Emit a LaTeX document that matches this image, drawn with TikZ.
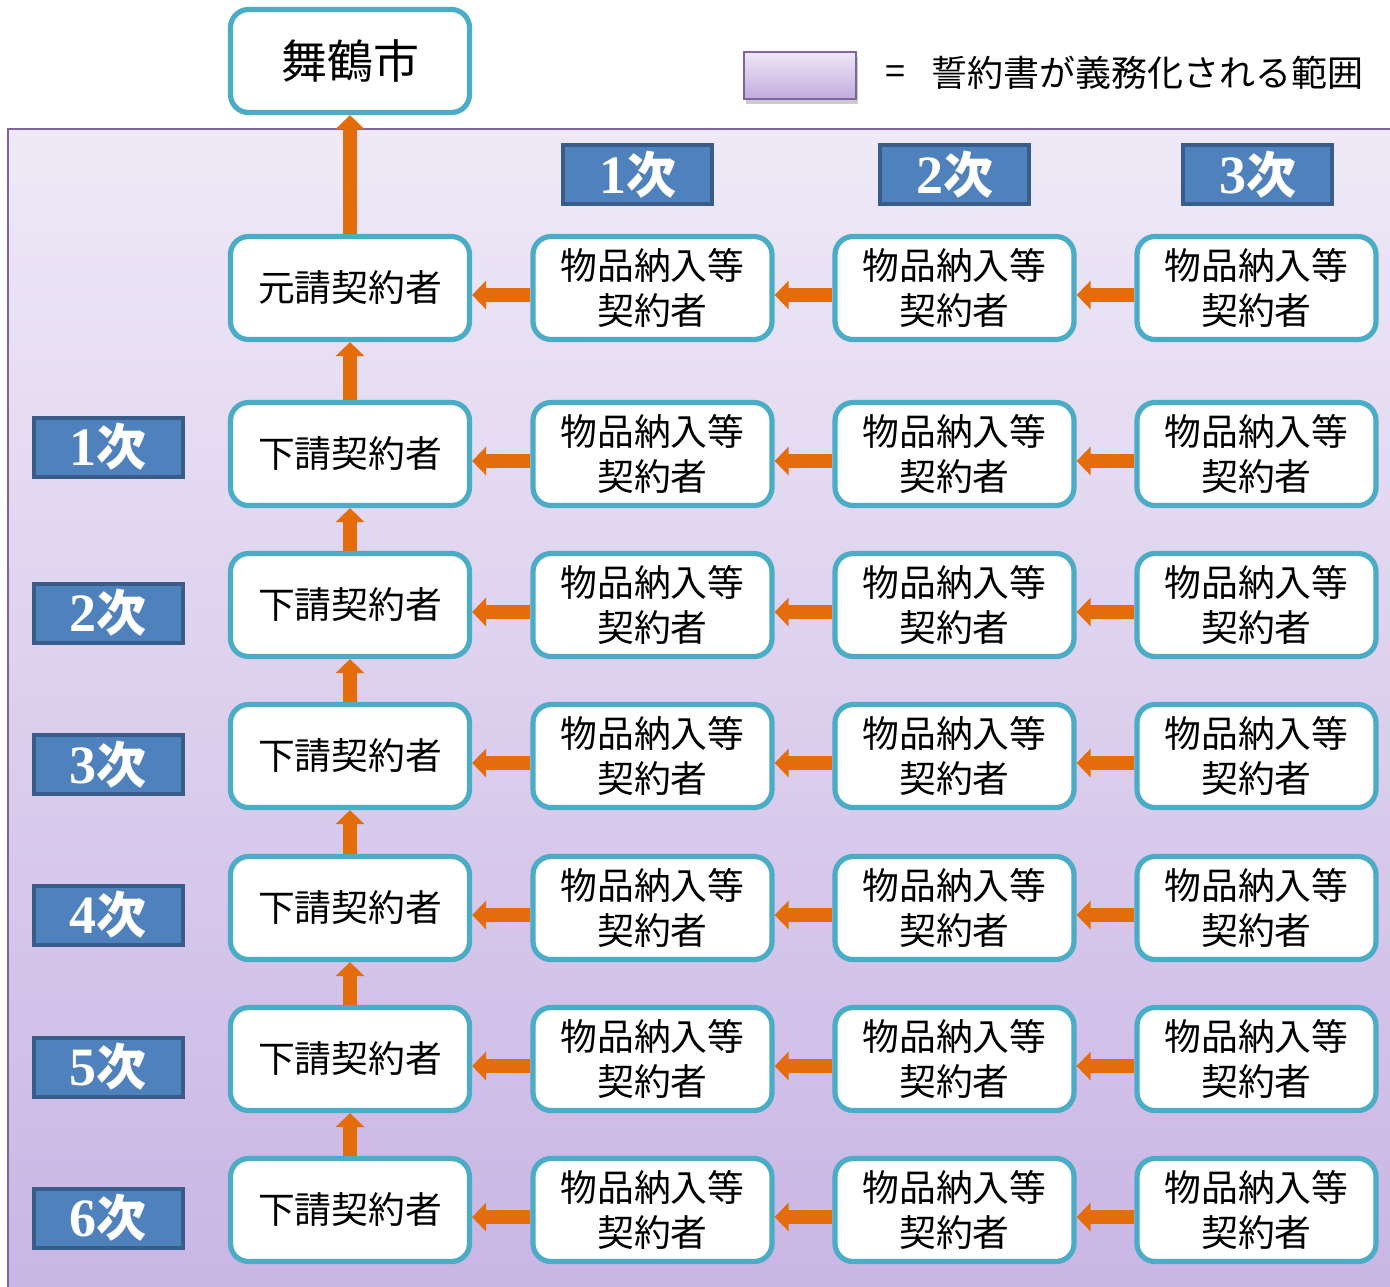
\documentclass[tikz,border=0pt]{standalone}
\usepackage{fontspec}
\setmainfont{Noto Sans CJK JP}
\newfontfamily\numfont{Liberation Serif}
\usetikzlibrary{arrows.meta,shadows}
\definecolor{boxteal}{HTML}{4BACC6}
\definecolor{arrowor}{HTML}{E46C0A}
\definecolor{hdrblue}{HTML}{4F81BD}
\definecolor{hdrdark}{HTML}{385D8A}
\definecolor{regtop}{HTML}{EFE9F7}
\definecolor{regbot}{HTML}{C8B4E4}
\definecolor{regline}{HTML}{8064A2}
\definecolor{legtop}{HTML}{EEE8F6}
\definecolor{legbot}{HTML}{C2ACDE}
\tikzset{
  box/.style={draw=boxteal, line width=2.6pt, fill=white, rounded corners=9pt,
    minimum width=119.5pt, minimum height=51.5pt, inner sep=0pt, align=center,
    font=\fontsize{18.4pt}{22.5pt}\selectfont},
  hdr/.style={draw=hdrdark, line width=2pt, fill=hdrblue, minimum width=74.5pt,
    minimum height=29.5pt, inner sep=0pt, text=white,
    font=\fontsize{25pt}{25pt}\selectfont\bfseries},
  arr/.style={draw=arrowor, line width=7pt, -{Triangle[length=7pt,width=14pt]}},
}
\newcommand{\hd}[1]{{\numfont\fontsize{27pt}{27pt}\selectfont #1}次}
\begin{document}
\begin{tikzpicture}[x=0.5pt,y=-0.5pt]
\useasboundingbox (0,0) rectangle (1390,1286);
% region
\draw[regline, line width=1pt, top color=regtop, bottom color=regbot] (8,129) rectangle (1420,1320);
% legend
\node[draw=regline, line width=1pt, top color=legtop, bottom color=legbot,
  minimum width=56pt, minimum height=23.5pt, inner sep=0pt,
  drop shadow={opacity=0.4, shadow xshift=1pt, shadow yshift=-2.5pt}] (leg) at (799.5,75) {};
\node[font=\fontsize{18pt}{20pt}\selectfont] (eq) at (895,75) {=};
\node[anchor=west, inner sep=0pt, font=\fontsize{18pt}{20pt}\selectfont] (legtxt) at (931,73) {誓約書が義務化される範囲};
% city
\node[box, font=\fontsize{23pt}{25pt}\selectfont] (city) at (350,61) {舞鶴市};
% headers
\node[hdr] (h1) at (637.5,174.5) {\hd{1}};
\node[hdr] (h2) at (954.5,174.5) {\hd{2}};
\node[hdr] (h3) at (1257.5,174.5) {\hd{3}};
% left labels
\node[hdr] (l1) at (108,447) {\hd{1}};
\node[hdr] (l2) at (108,613) {\hd{2}};
\node[hdr] (l3) at (108,764.5) {\hd{3}};
\node[hdr] (l4) at (108,915) {\hd{4}};
\node[hdr] (l5) at (108,1067) {\hd{5}};
\node[hdr] (l6) at (108,1218) {\hd{6}};
% rows
\foreach \r/\y in {0/288,1/454,2/605,3/756,4/908,5/1059,6/1210}{
  \ifnum\r=0
    \node[box] (r\r) at (350,\y) {元請契約者};
  \else
    \node[box] (r\r) at (350,\y) {下請契約者};
  \fi
  \node[box] (a\r) at (652.5,\y) {物品納入等\\契約者};
  \node[box] (b\r) at (954.5,\y) {物品納入等\\契約者};
  \node[box] (c\r) at (1256.5,\y) {物品納入等\\契約者};
  \draw[arr] ([yshift=-3.5pt]a\r.west) -- ([yshift=-3.5pt]r\r.east);
  \draw[arr] ([yshift=-3.5pt]b\r.west) -- ([yshift=-3.5pt]a\r.east);
  \draw[arr] ([yshift=-3.5pt]c\r.west) -- ([yshift=-3.5pt]b\r.east);
}
\draw[arr] (r0.north) -- (city.south);
\foreach \u/\l in {0/1,1/2,2/3,3/4,4/5,5/6}{
  \draw[arr] (r\l.north) -- (r\u.south);
}
\end{tikzpicture}
\end{document}
